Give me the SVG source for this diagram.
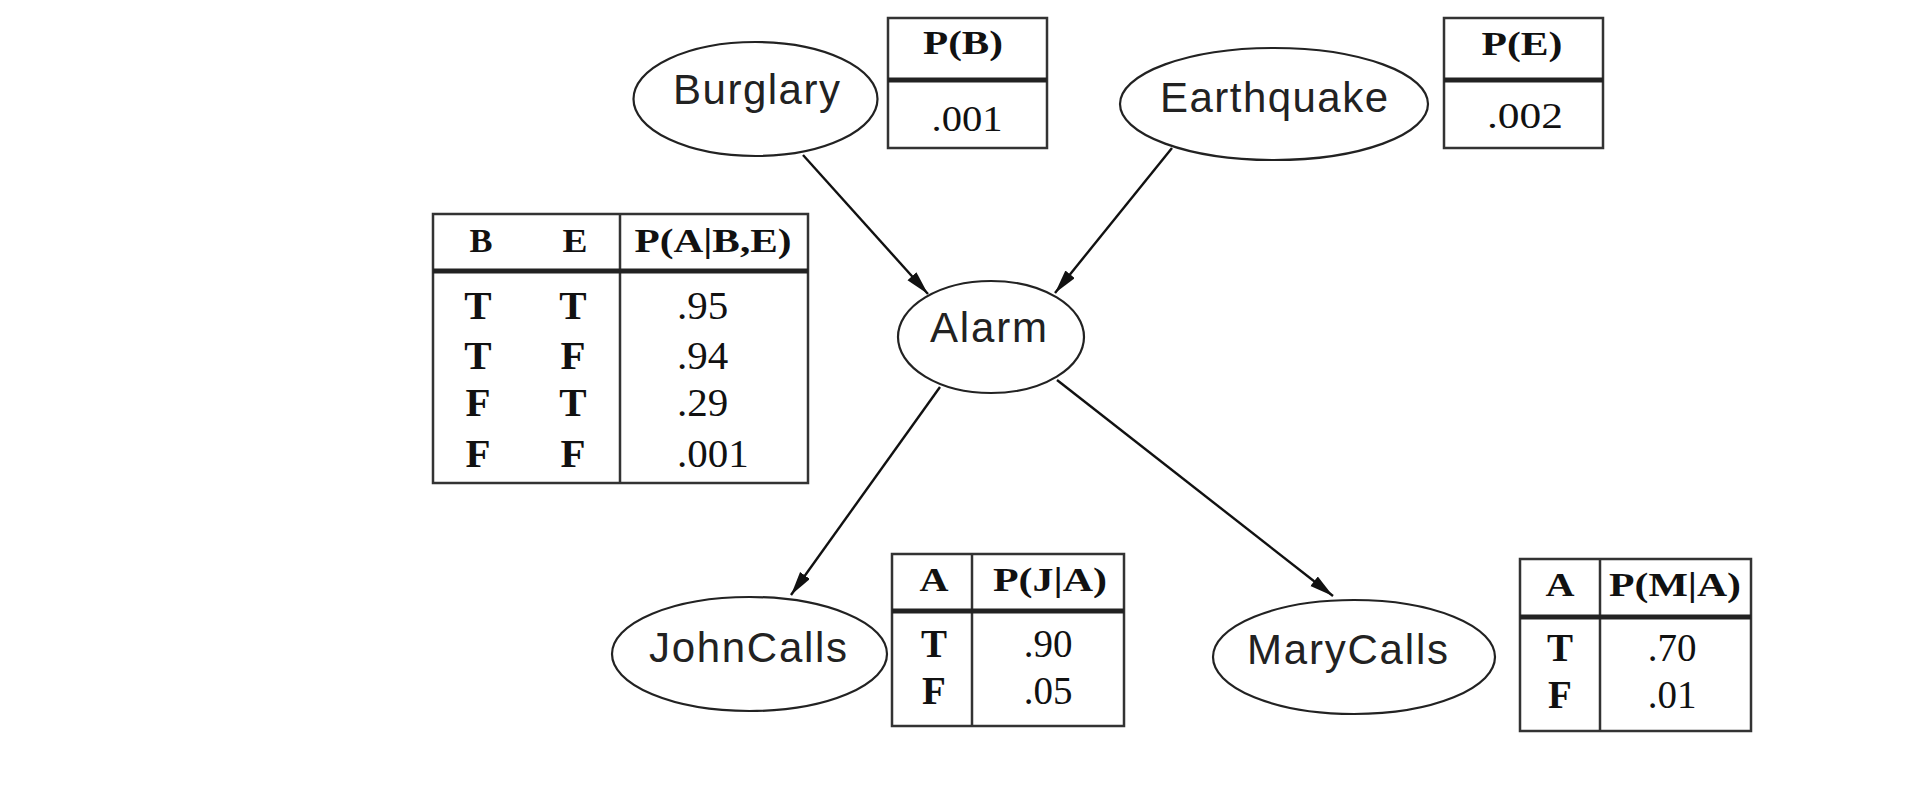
<svg xmlns="http://www.w3.org/2000/svg" width="1914" height="802" viewBox="0 0 1914 802">
<defs>
<style>
.node ellipse{fill:#fff;stroke:#222;stroke-width:2.2}
.lbl{font-family:"Liberation Sans",Arial,sans-serif;font-size:42px;fill:#222;text-anchor:middle}
.tbl rect{fill:#fff;stroke:#333;stroke-width:2.5}
.tbl line{stroke:#333;stroke-width:2.5}
.tbl line.dbl{stroke:#222;stroke-width:5}
.th{font-family:"Liberation Serif","Times New Roman",serif;font-weight:bold;font-size:33px;fill:#111;text-anchor:middle}
.tb{font-family:"Liberation Serif","Times New Roman",serif;font-weight:bold;font-size:41px;fill:#111;text-anchor:middle}
.tv{font-family:"Liberation Serif","Times New Roman",serif;font-size:41px;fill:#111;text-anchor:middle}
.edge{stroke:#111;stroke-width:2.4;fill:none;marker-end:url(#arr)}
</style>
<marker id="arr" markerUnits="userSpaceOnUse" markerWidth="26" markerHeight="14" refX="24" refY="6" orient="auto">
<path d="M0,0 L24,6 L0,12 z" fill="#111"/>
</marker>
</defs>
<rect width="1914" height="802" fill="#fff"/>

<g id="connectors">
<line class="edge" x1="803" y1="155" x2="928" y2="294"/>
<line class="edge" x1="1172" y1="148" x2="1055" y2="293"/>
<line class="edge" x1="940" y1="387" x2="791" y2="595"/>
<line class="edge" x1="1057" y1="380" x2="1333" y2="596"/>
</g>

<g id="burglary" class="node">
<ellipse cx="755.5" cy="99" rx="122" ry="57"/>
<text class="lbl" x="756.5" y="104" textLength="167">Burglary</text>
</g>
<g id="earthquake" class="node">
<ellipse cx="1274" cy="104" rx="154" ry="56"/>
<text class="lbl" x="1274" y="112" textLength="228">Earthquake</text>
</g>
<g id="alarm" class="node">
<ellipse cx="991" cy="337" rx="93" ry="56"/>
<text class="lbl" x="988.5" y="342" textLength="117">Alarm</text>
</g>
<g id="johncalls" class="node">
<ellipse cx="749.5" cy="654" rx="137.5" ry="57"/>
<text class="lbl" x="748" y="662" textLength="198">JohnCalls</text>
</g>
<g id="marycalls" class="node">
<ellipse cx="1354" cy="657" rx="141" ry="57"/>
<text class="lbl" x="1347.5" y="664" textLength="201">MaryCalls</text>
</g>

<g id="table-pb" class="tbl">
<rect x="888" y="18" width="159" height="130"/>
<line class="dbl" x1="888" y1="80" x2="1047" y2="80"/>
<text class="th" x="963" y="54" textLength="80" lengthAdjust="spacingAndGlyphs">P(B)</text>
<text class="tv" x="967" y="131" textLength="71" lengthAdjust="spacingAndGlyphs" style="font-size:35px">.001</text>
</g>
<g id="table-pe" class="tbl">
<rect x="1444" y="18" width="159" height="130"/>
<line class="dbl" x1="1444" y1="80" x2="1603" y2="80"/>
<text class="th" x="1522" y="55" textLength="81" lengthAdjust="spacingAndGlyphs">P(E)</text>
<text class="tv" x="1525" y="128" textLength="76" lengthAdjust="spacingAndGlyphs" style="font-size:35px">.002</text>
</g>

<g id="table-alarm" class="tbl">
<rect x="433" y="214" width="375" height="269"/>
<line x1="620" y1="214" x2="620" y2="483"/>
<line class="dbl" x1="433" y1="271" x2="808" y2="271"/>
<text class="th" x="481" y="252" textLength="23" lengthAdjust="spacingAndGlyphs">B</text>
<text class="th" x="575" y="252" textLength="25" lengthAdjust="spacingAndGlyphs">E</text>
<text class="th" x="713" y="252" textLength="157" lengthAdjust="spacingAndGlyphs">P(A|B,E)</text>
<text class="tb" x="478" y="319">T</text><text class="tb" x="573" y="319">T</text>
<text class="tb" x="478" y="369">T</text><text class="tb" x="573" y="369">F</text>
<text class="tb" x="478" y="416">F</text><text class="tb" x="573" y="416">T</text>
<text class="tb" x="478" y="467">F</text><text class="tb" x="573" y="467">F</text>
<text class="tv" x="677" y="319" style="text-anchor:start">.95</text>
<text class="tv" x="677" y="369" style="text-anchor:start">.94</text>
<text class="tv" x="677" y="416" style="text-anchor:start">.29</text>
<text class="tv" x="677" y="467" style="text-anchor:start">.001</text>
</g>

<g id="table-john" class="tbl">
<rect x="892" y="554" width="232" height="172"/>
<line x1="972" y1="554" x2="972" y2="726"/>
<line class="dbl" x1="892" y1="611" x2="1124" y2="611"/>
<text class="th" x="934" y="591" textLength="29" lengthAdjust="spacingAndGlyphs">A</text>
<text class="th" x="1050" y="591" textLength="114" lengthAdjust="spacingAndGlyphs">P(J|A)</text>
<text class="tb" x="934" y="657" style="font-size:39px">T</text>
<text class="tb" x="934" y="704" style="font-size:39px">F</text>
<text class="tv" x="1048" y="657" style="font-size:39px">.90</text>
<text class="tv" x="1048" y="704" style="font-size:39px">.05</text>
</g>

<g id="table-mary" class="tbl">
<rect x="1520" y="559" width="231" height="172"/>
<line x1="1600" y1="559" x2="1600" y2="731"/>
<line class="dbl" x1="1520" y1="617" x2="1751" y2="617"/>
<text class="th" x="1560" y="596" textLength="29" lengthAdjust="spacingAndGlyphs">A</text>
<text class="th" x="1675" y="596" textLength="132" lengthAdjust="spacingAndGlyphs">P(M|A)</text>
<text class="tb" x="1560" y="661" style="font-size:39px">T</text>
<text class="tb" x="1560" y="708" style="font-size:39px">F</text>
<text class="tv" x="1672" y="661" style="font-size:39px">.70</text>
<text class="tv" x="1672" y="708" style="font-size:39px">.01</text>
</g>
</svg>
